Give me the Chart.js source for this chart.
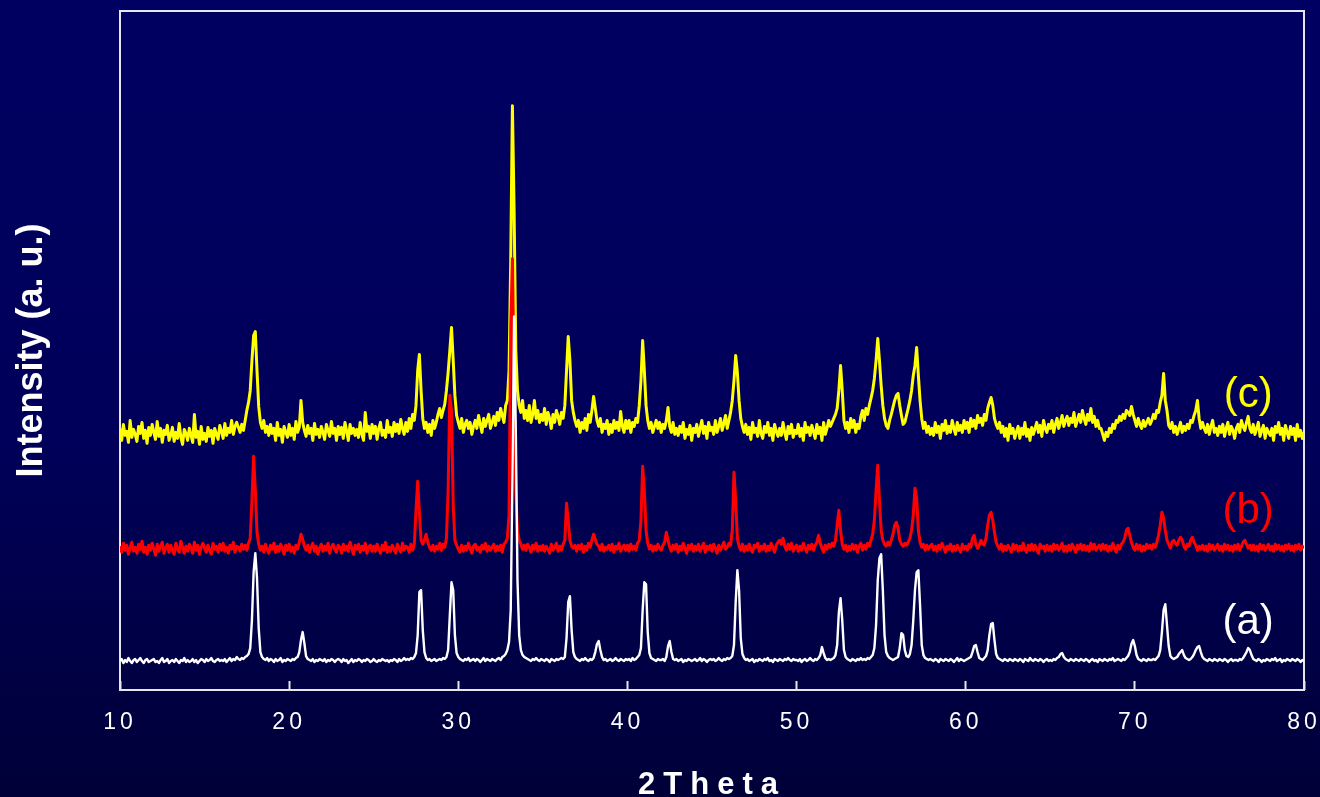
<!DOCTYPE html>
<html>
<head>
<meta charset="utf-8">
<title>XRD patterns</title>
<script src="https://cdn.jsdelivr.net/npm/chart.js@4.4.1/dist/chart.umd.min.js"></script>
<style>
    html, body { margin: 0; padding: 0; background: #00004a; }
    #wrap { width: 1320px; height: 797px; }
</style>
</head>
<body>
<div id="wrap"><canvas id="xrdChart"></canvas></div>
<script>
// step scan: 10° to 80° 2θ, 0.1° per step, one row per degree
const scanStart = 10
const scanStep = 0.1

const patternA = [
    29,31,27,30,28,32,29,27,30,31,
    28,30,32,29,27,30,31,28,29,30,
    31,28,29,27,30,32,28,29,31,27,
    29,30,28,31,29,27,30,29,32,28,
    30,28,29,31,28,30,27,29,31,30,
    28,31,29,30,32,29,28,30,31,29,
    30,29,31,28,30,32,29,31,30,33,
    31,30,32,31,33,34,36,42,70,118,
    137,112,62,38,33,31,30,32,29,31,
    30,28,31,29,30,32,28,30,29,31,
    30,29,31,30,32,33,38,50,58,47,
    34,31,30,29,31,28,30,29,31,30,
    29,31,28,30,29,31,30,28,30,31,
    30,28,31,29,30,27,29,31,28,30,
    29,31,30,28,30,29,31,30,28,29,
    31,29,28,30,29,31,30,29,30,28,
    30,29,31,30,28,31,29,30,32,30,
    31,30,32,31,33,37,55,98,100,60,
    38,32,30,31,29,30,31,29,30,31,
    30,32,31,33,40,75,108,100,55,37,
    33,31,30,29,31,30,32,29,30,31,
    29,31,30,28,30,32,29,31,30,29,
    31,30,29,31,32,30,33,34,36,40,
    48,80,210,374,260,110,55,40,35,33,
    32,31,30,29,31,30,32,30,29,31,
    30,29,31,30,28,31,30,29,31,30,
    31,32,31,33,52,88,94,60,38,33,
    31,30,29,31,30,32,30,29,31,30,
    32,38,46,49,40,33,30,31,29,30,
    31,29,30,32,30,29,31,30,29,31,
    30,31,29,32,30,31,33,35,42,80,
    108,106,58,37,32,31,30,29,31,30,
    30,31,29,33,44,49,38,31,30,31,
    29,30,31,28,30,29,31,30,29,30,
    31,29,30,32,29,31,30,28,30,31,
    30,31,29,30,32,30,29,31,30,32,
    31,32,34,45,88,120,100,52,36,32,
    30,31,29,30,31,28,30,29,31,30,
    29,31,30,32,29,30,28,31,30,29,
    31,30,29,31,30,32,30,29,31,30,
    30,29,31,28,30,31,29,30,32,30,
    29,31,30,32,35,43,37,32,30,31,
    30,31,32,35,45,78,92,70,40,33,
    31,30,29,31,30,29,31,30,32,30,
    31,30,32,31,33,35,42,65,110,132,
    136,100,55,38,34,32,31,30,31,32,
    33,42,57,55,40,34,33,36,45,70,
    100,118,120,85,45,35,32,31,30,31,
    30,29,31,30,28,31,30,29,31,30,
    29,31,30,28,30,32,29,31,30,29,
    30,31,32,33,38,44,45,38,32,31,
    30,32,34,40,55,66,67,50,36,32,
    31,30,29,31,30,29,31,30,29,31,
    30,29,31,30,28,31,30,29,32,30,
    29,31,30,29,31,30,28,30,31,29,
    30,29,31,30,32,33,36,37,33,31,
    30,29,31,30,29,31,30,29,31,30,
    29,31,30,28,30,31,29,30,28,31,
    30,29,31,30,29,31,30,32,29,30,
    31,30,29,31,30,32,34,38,46,50,
    44,35,31,30,29,31,30,29,31,30,
    30,31,30,32,34,40,58,80,86,65,
    44,34,32,31,32,33,36,38,40,35,
    32,31,30,31,33,36,40,43,44,38,
    33,31,30,29,31,30,29,31,30,29,
    31,30,29,31,30,28,30,31,29,30,
    30,29,31,30,32,35,38,42,40,35,
    31,30,29,31,30,28,30,29,31,30,
    29,31,30,32,29,30,31,28,30,29,
    31,30,29,31,30,29,31,30,28,30,
    29
]

const patternB = [
    144,138,147,140,145,136,142,148,139,143,
    137,146,141,149,138,143,136,145,140,147,
    141,135,146,139,144,148,137,142,146,138,
    145,140,136,147,141,138,149,143,137,144,
    139,146,142,137,148,140,145,136,143,147,
    142,138,145,140,136,147,141,144,138,146,
    140,147,139,143,137,145,141,148,138,144,
    143,139,146,141,145,140,147,152,190,234,
    200,158,146,140,144,138,146,141,137,145,
    141,147,138,144,139,146,142,136,145,140,
    146,139,143,137,145,141,148,156,151,144,
    140,145,138,143,147,139,144,136,142,146,
    139,144,140,147,137,143,146,141,138,145,
    143,137,146,140,144,139,148,142,136,145,
    141,146,138,144,140,147,137,143,145,139,
    144,139,146,141,137,145,140,148,138,143,
    139,145,141,137,146,142,138,147,140,144,
    143,138,146,140,146,180,209,178,150,146,
    150,156,148,143,140,145,139,144,141,147,
    140,146,143,152,200,295,280,185,150,145,
    141,138,145,139,144,140,147,142,137,144,
    146,140,143,138,145,141,147,139,144,140,
    143,146,139,144,140,145,138,146,148,152,
    175,360,432,300,200,160,150,146,141,145,
    140,146,143,138,145,141,147,139,144,140,
    145,139,144,141,137,146,140,143,147,139,
    144,140,146,150,187,170,150,144,142,145,
    139,145,141,146,138,144,140,147,143,150,
    156,151,146,144,140,146,139,143,141,145,
    140,146,138,144,141,147,139,143,145,140,
    145,139,146,141,144,140,147,150,170,224,
    200,160,147,141,145,139,144,140,146,142,
    140,145,148,158,150,143,139,145,141,146,
    138,144,140,147,142,137,145,141,146,139,
    144,140,146,139,143,147,138,144,141,145,
    139,146,142,137,145,140,144,148,141,143,
    147,145,160,218,190,152,144,140,146,139,
    144,140,146,141,138,145,143,147,139,144,
    141,146,139,144,140,147,143,138,145,148,
    150,146,152,144,140,146,141,147,139,143,
    145,139,144,140,147,142,138,145,141,146,
    140,145,148,155,147,142,138,145,141,146,
    143,147,144,150,165,180,160,146,141,145,
    139,144,140,146,141,145,138,144,147,140,
    145,141,147,144,150,156,170,200,225,190,
    160,150,146,144,148,145,150,156,165,168,
    162,150,146,144,147,145,148,152,160,175,
    202,192,160,148,143,146,140,145,141,144,
    146,140,144,139,145,141,147,143,138,144,
    141,146,139,144,140,145,142,138,146,141,
    144,140,146,143,152,155,146,142,145,150,
    147,145,152,165,175,178,170,158,148,144,
    141,146,139,144,140,145,142,138,146,141,
    145,139,144,140,147,141,138,145,140,146,
    140,145,141,137,146,142,144,139,145,140,
    144,139,146,141,145,140,143,147,139,144,
    139,145,140,146,142,138,145,141,146,140,
    145,140,144,139,147,141,146,140,143,145,
    140,146,141,145,139,144,140,147,142,138,
    145,141,146,148,152,160,162,155,148,143,
    140,146,141,145,139,144,140,146,142,145,
    141,146,143,148,155,165,178,172,160,150,
    146,142,148,150,147,145,150,153,150,144,
    141,146,144,150,153,148,145,140,144,141,
    145,140,144,139,146,141,145,140,143,146,
    140,144,139,146,141,145,140,144,139,145,
    141,146,140,144,148,150,146,142,145,140,
    145,140,144,139,146,141,145,140,143,146,
    140,144,139,146,141,145,140,144,139,145,
    141,146,140,144,139,145,141,146,140,144,
    142
]

const patternC = [
    262,250,266,255,259,248,270,253,261,256,
    249,264,257,268,252,260,247,263,255,266,
    258,251,269,254,262,248,260,256,265,250,
    255,263,249,258,252,267,253,246,261,257,
    250,262,255,248,276,253,259,246,264,251,
    257,249,263,254,260,247,262,256,251,265,
    259,252,267,255,262,258,270,256,264,268,
    263,258,266,260,270,280,288,300,330,355,
    359,320,284,268,262,270,258,264,255,266,
    257,262,250,268,255,261,248,264,258,253,
    266,255,262,251,269,258,263,290,268,260,
    254,265,257,262,250,267,256,261,253,264,
    258,251,266,260,254,269,257,262,250,264,
    256,263,252,268,259,250,266,257,262,255,
    261,253,268,256,250,278,259,264,252,266,
    257,264,251,262,268,255,260,253,270,258,
    263,254,268,259,266,257,271,262,256,268,
    259,272,262,276,270,285,320,336,300,272,
    262,268,258,266,255,270,262,268,276,282,
    273,280,286,300,318,340,363,330,295,275,
    268,262,272,258,266,270,262,268,256,264,
    270,262,275,266,258,272,264,270,276,262,
    268,274,265,278,270,282,275,268,285,290,
    320,430,585,480,340,300,285,278,290,272,
    280,270,285,268,276,290,272,280,268,276,
    270,282,266,278,272,262,276,268,280,274,
    266,278,272,285,320,354,330,290,278,270,
    264,270,258,268,262,272,260,276,268,280,
    294,282,270,264,272,258,266,262,270,256,
    266,258,270,262,268,260,279,264,258,270,
    262,270,258,268,264,272,268,285,310,350,
    320,285,270,262,268,258,264,270,262,268,
    258,266,262,270,283,264,258,268,256,262,
    255,264,258,268,252,261,256,265,250,262,
    258,266,254,262,270,257,264,252,268,260,
    263,256,270,258,264,272,260,267,275,262,
    270,278,290,310,335,318,290,272,264,258,
    266,256,263,251,268,258,262,254,270,257,
    252,264,258,268,255,262,250,266,259,254,
    262,255,268,258,251,264,257,266,253,260,
    257,266,254,262,250,268,258,263,255,265,
    259,252,266,257,263,250,268,256,262,270,
    264,268,272,276,282,300,325,300,270,262,
    268,258,272,263,270,258,266,262,274,280,
    270,282,276,285,292,300,312,330,352,330,
    305,285,272,265,262,270,276,283,290,295,
    297,285,275,266,268,275,282,290,300,315,
    325,343,315,290,272,262,268,258,264,256,
    262,255,268,258,264,252,266,260,270,257,
    264,258,270,262,256,268,260,265,258,270,
    262,268,258,272,264,270,262,275,268,272,
    265,276,270,282,288,293,285,272,266,262,
    268,258,264,254,262,250,266,257,262,252,
    259,264,252,262,256,268,254,261,250,263,
    256,262,268,258,265,254,270,262,258,266,
    262,270,258,266,272,262,268,275,264,270,
    274,265,272,268,278,264,270,276,268,280,
    272,266,276,270,282,268,274,264,270,262,
    262,256,250,258,254,262,258,266,262,270,
    268,274,270,276,272,280,278,275,284,276,
    270,264,272,266,262,270,264,268,272,266,
    270,276,272,280,278,288,295,317,290,280,
    265,262,268,258,264,256,262,268,258,264,
    260,266,262,270,268,275,280,290,272,262,
    268,262,258,266,256,264,270,258,262,255,
    264,258,266,254,262,268,256,264,260,252,
    262,266,258,270,264,260,268,274,262,258,
    266,256,262,268,254,260,265,252,262,258,
    255,262,250,264,258,268,256,262,250,265,
    258,252,264,256,262,250,266,254,260,252,
    258
]

const sampleNames = ["(a)", "(b)", "(c)"]
const sampleColors = ["#ffffff", "#ff0000", "#ffff00"]
const xTicks = [10, 20, 30, 40, 50, 60, 70, 80]

// where the (a)/(b)/(c) tags sit, in axis units
const tagX = 76.7
const tagY = [68, 179, 295]

const toPoints = values => values.map((v, i) => ({x: +(scanStart + i * scanStep).toFixed(1), y: v}))

const fontFamily = '"Liberation Sans", Arial, Helvetica, sans-serif'
Chart.defaults.font.family = fontFamily

const frame = {
    id: 'frame',
    beforeDraw(chart)
    {
        const {ctx, width, height} = chart
        const g = ctx.createLinearGradient(0, 0, 0, height)
        g.addColorStop(0, '#000062')
        g.addColorStop(0.55, '#00005a')
        g.addColorStop(1, '#000038')
        ctx.save()
        ctx.fillStyle = g
        ctx.fillRect(0, 0, width, height)
        ctx.restore()
    },
    beforeDatasetsDraw(chart)
    {
        const {ctx, chartArea: a} = chart
        ctx.save()
        ctx.strokeStyle = '#e6e6f0'
        ctx.lineWidth = 2
        ctx.strokeRect(a.left, a.top, a.right - a.left, a.bottom - a.top)
        ctx.restore()
    },
    afterDatasetsDraw(chart)
    {
        // x tick labels are drawn on a later layer, spaced out a little
        chart.ctx.letterSpacing = '4px'
    },
    afterDraw(chart)
    {
        const {ctx, chartArea: a, scales} = chart
        ctx.letterSpacing = '0px'
        ctx.save()
        ctx.fillStyle = '#ffffff'
        ctx.textAlign = 'center'
        ctx.textBaseline = 'alphabetic'
        ctx.letterSpacing = '8px'
        ctx.font = 'bold 31px ' + fontFamily
        ctx.fillText('2Theta', (a.left + a.right) / 2, scales.x.bottom - 3)

        ctx.letterSpacing = '0px'
        ctx.font = '42px ' + fontFamily
        ctx.textBaseline = 'middle'
        sampleNames.forEach((name, i) =>
        {
            ctx.fillStyle = sampleColors[i]
            ctx.fillText(name, scales.x.getPixelForValue(tagX), scales.y.getPixelForValue(tagY[i]))
        })
        ctx.restore()
    }
}

const patterns = [patternA, patternB, patternC]

const config = {
    type: 'line',
    data: {
        datasets: patterns.map((p, i) => ({
            label: sampleNames[i],
            data: toPoints(p),
            borderColor: sampleColors[i],
            borderWidth: i == 0 ? 2.4 : 3,
            pointRadius: 0,
            tension: 0,
            borderJoinStyle: 'round',
            fill: false,
        })),
    },
    options: {
        responsive: true,
        maintainAspectRatio: false,
        animation: false,
        devicePixelRatio: 1,
        layout: {
            padding: {top: 11, right: 16, left: 0, bottom: 0}
        },
        plugins: {
            legend: {display: false},
            tooltip: {enabled: false},
        },
        scales: {
            x: {
                type: 'linear',
                position: 'bottom',
                min: 10,
                max: 80,
                afterBuildTicks: scale => { scale.ticks = xTicks.map(v => ({value: v})) },
                afterFit: scale =>
                {
                    scale.height = 107
                    scale.paddingLeft = 0
                    scale.paddingRight = 0
                },
                ticks: {
                    color: '#ffffff',
                    font: {size: 23},
                    padding: 28,
                    maxRotation: 0,
                    autoSkip: false,
                    z: 1,
                },
                grid: {
                    drawOnChartArea: false,
                    drawTicks: true,
                    tickLength: -9,
                    tickColor: '#e6e6f0',
                    tickWidth: 2,
                },
                border: {display: false},
            },
            y: {
                min: 0,
                max: 680,
                afterFit: scale =>
                {
                    scale.width = 120
                    scale.paddingTop = 0
                    scale.paddingBottom = 0
                },
                ticks: {display: false},
                grid: {display: false},
                border: {display: false},
                title: {
                    display: true,
                    text: 'Intensity (a. u.)',
                    color: '#ffffff',
                    font: {size: 36, weight: 'bold'},
                    padding: {top: 10, bottom: 0},
                },
            },
        },
    },
    plugins: [frame],
}

const chart = new Chart(document.getElementById('xrdChart'), config)
</script>
</body>
</html>
